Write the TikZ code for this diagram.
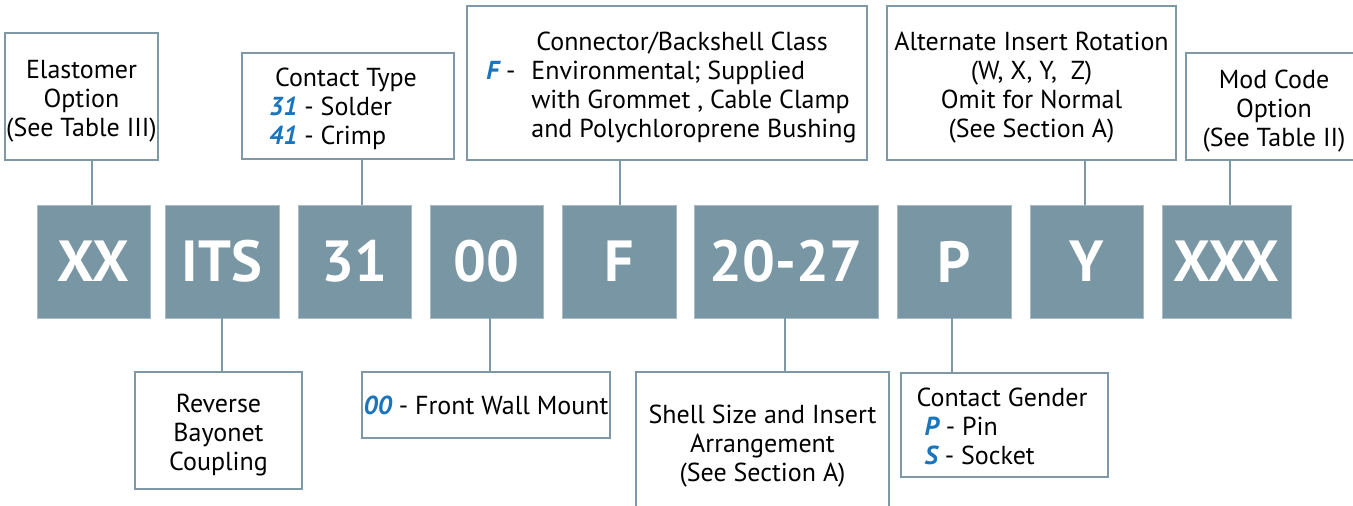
\documentclass[tikz,border=0pt]{standalone}
\usepackage{fontspec}
\setmainfont{PT Sans}
\definecolor{bordc}{HTML}{7E98A6}
\definecolor{codec}{HTML}{7896A3}
\definecolor{codeedge}{HTML}{A9BCC6}
\definecolor{hlblue}{HTML}{1A75BC}
\newcommand\hl[1]{\textcolor{hlblue}{\bfseries\itshape #1}}
\begin{document}
\begin{tikzpicture}[x=1pt,y=-1pt,
  lbl/.style={draw=bordc, line width=2.6pt, fill=white, inner sep=0pt, align=center,
    font=\fontsize{26}{29}\selectfont, text=black},
  txt/.style={inner sep=0pt, align=center, font=\fontsize{26}{29}\selectfont, text=black},
  code/.style={fill=codec, draw=codeedge, line width=0.8pt, inner sep=0pt,
    minimum height=113pt, font=\fontsize{58}{58}\selectfont\bfseries, text=white},
  wire/.style={draw=bordc, line width=2.6pt}]
\useasboundingbox (0,0) rectangle (1353,506);
\clip (0,0) rectangle (1353,506);
% code boxes
\node[code, minimum width=113pt] (xx)  at (93.5,261.5) {XX};
\node[code, minimum width=114pt] (its) at (222,261.5) {ITS};
\node[code, minimum width=113pt] (c31) at (354.5,261.5) {31};
\node[code, minimum width=113pt] (c00) at (486.5,261.5) {00};
\node[code, minimum width=114pt] (cf)  at (619,261.5) {F};
\node[code, minimum width=184pt] (csz) at (786,261.5) {20-27};
\node[code, minimum width=114pt] (cp)  at (954,261.5) {P};
\node[code, minimum width=113pt] (cy)  at (1086.5,261.5) {Y};
\node[code, minimum width=129pt] (cx)  at (1226.5,261.5) {XXX};
% top label frames
\node[lbl, minimum width=153pt, minimum height=127pt] (elast) at (81.5,96.5) {};
\node[lbl, minimum width=212pt, minimum height=106pt] (ctype) at (348,106) {};
\node[lbl, minimum width=400pt, minimum height=154pt] (conn) at (667,83) {};
\node[lbl, minimum width=289pt, minimum height=154pt] (alt) at (1031.5,83) {};
\node[lbl, minimum width=176pt, minimum height=107pt] (mod) at (1274,106.5) {};
% bottom label frames
\node[lbl, minimum width=167pt, minimum height=117pt] (rev) at (218.5,430.5) {};
\node[lbl, minimum width=248pt, minimum height=66pt] (front) at (486,405)
  {\hl{00} - Front Wall Mount};
\node[lbl, minimum width=253pt, minimum height=139pt] (shell) at (762.5,441.5) {};
\node[lbl, minimum width=207pt, minimum height=104pt] (gender) at (1004.5,425) {};
% label texts
\node[txt] (elastT) at ([yshift=-5pt]elast.center) {Elastomer\\Option\\(See Table III)};
\node[txt] (ctypeT) at ([yshift=-4pt]ctype.center)
  {\begin{tabular}{@{}l@{}}\hspace{6pt}Contact Type\\\hl{31} - Solder\\\hl{41} - Crimp\end{tabular}\hspace{10pt}};
\node[txt] (connT) at ([yshift=-5pt]conn.center)
  {\begin{tabular}{@{}p{45pt}@{}l@{}}
   & \hspace{5pt}Connector/Backshell Class\\
   \hl{F} - & Environmental; Supplied\\
   & with Grommet , Cable Clamp\\
   & and Polychloroprene Bushing
   \end{tabular}\hspace{-9pt}};
\node[txt] (altT) at ([yshift=-5pt]alt.center)
  {Alternate Insert Rotation\\(W, X, Y,\ \ Z)\\Omit for Normal\\(See Section A)};
\node[txt] (modT) at ([yshift=-5pt]mod.center) {Mod Code\\Option\\(See Table II)};
\node[txt] (revT) at ([yshift=-5pt]rev.center) {Reverse\\Bayonet\\Coupling};
\node[txt] (shellT) at ([yshift=-5pt]shell.center)
  {Shell Size and Insert\\Arrangement\\(See Section A)};
\node[txt] (genderT) at ([yshift=-5pt]gender.center)
  {\begin{tabular}{@{}l@{}}Contact Gender\\\hspace{8pt}\hl{P} - Pin\\\hspace{8pt}\hl{S} - Socket\end{tabular}\hspace{5pt}};
% connectors
\draw[wire] ([xshift=-1.5pt]xx.north) -- ([xshift=-1.5pt]xx.north |- elast.south);
\draw[wire] ([xshift=7.5pt]c31.north) -- ([xshift=7.5pt]c31.north |- ctype.south);
\draw[wire] ([xshift=1pt]cf.north) -- ([xshift=1pt]cf.north |- conn.south);
\draw[wire] ([xshift=-1.5pt]cy.north) -- ([xshift=-1.5pt]cy.north |- alt.south);
\draw[wire] ([xshift=3.5pt]cx.north) -- ([xshift=3.5pt]cx.north |- mod.south);
\draw[wire] (its.south) -- (its.south |- rev.north);
\draw[wire] ([xshift=3.5pt]c00.south) -- ([xshift=3.5pt]c00.south |- front.north);
\draw[wire] ([xshift=-1pt]csz.south) -- ([xshift=-1pt]csz.south |- shell.north);
\draw[wire] ([xshift=-2pt]cp.south) -- ([xshift=-2pt]cp.south |- gender.north);
\end{tikzpicture}
\end{document}
